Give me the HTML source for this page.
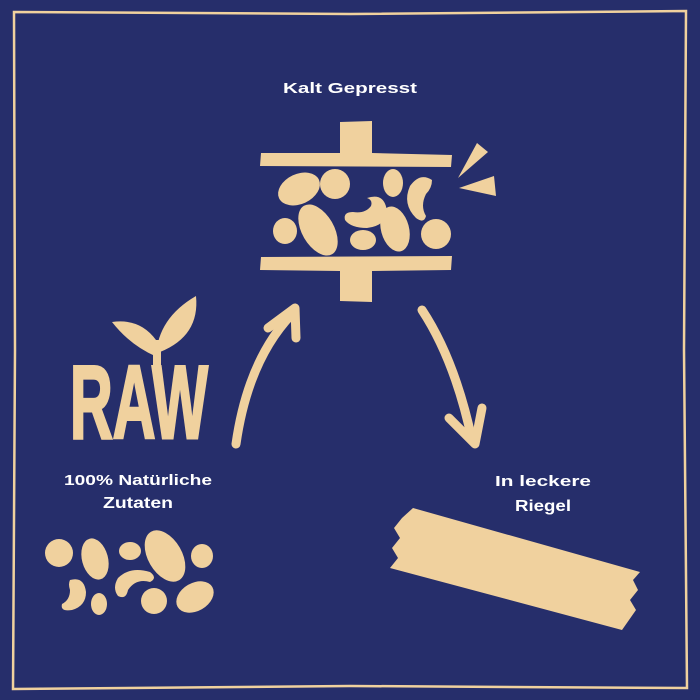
<!DOCTYPE html>
<html><head><meta charset="utf-8"><style>
html,body{margin:0;padding:0;background:#262e6b;}
svg{display:block}
text{font-family:"Liberation Sans",sans-serif;font-weight:bold;fill:#fff;text-anchor:middle;}
</style></head><body>
<svg width="700" height="700" viewBox="0 0 700 700" xmlns="http://www.w3.org/2000/svg">
<rect width="700" height="700" fill="#262e6b"/>
<path d="M14 12 L350 14 L686 11 L684 350 L687 688 L350 686 L13 689 L15 350 Z" fill="none" stroke="#f0d19e" stroke-width="2.5"/>
<g fill="#f0d19e">
<polygon points="340,122 372,121 372,153 452,155 451,167 260,166 261,153 340,153"/>
<polygon points="261,257 452,256 451,270 372,271 372,302 340,301 340,271 260,270"/>
<ellipse cx="299" cy="189" rx="22" ry="15" transform="rotate(-25 299 189)"/>
<circle cx="335" cy="184" r="15"/>
<ellipse cx="393" cy="183" rx="10" ry="14"/>
<path d="M432 180 q-12 -8 -22 6 q-8 18 6 32 q8 6 10 -2 q-6 -10 0 -22 q6 -6 6 -14z"/>
<path d="M367 198 q18 -6 20 14 q-2 14 -20 16 q-16 0 -22 -8 q-2 -8 8 -8 q12 2 18 -6 q2 -6 -4 -8z"/>
<ellipse cx="285" cy="231" rx="12" ry="13"/>
<ellipse cx="318" cy="230" rx="16" ry="28" transform="rotate(-30 318 230)"/>
<ellipse cx="363" cy="240" rx="13" ry="10"/>
<ellipse cx="395" cy="229" rx="14" ry="23" transform="rotate(-15 395 229)"/>
<circle cx="436" cy="234" r="15"/>
<polygon points="458,178 477,143 488,152"/>
<polygon points="459,188 494,176 496,196"/>
<path d="M236 444 Q248 360 292 314" fill="none" stroke="#f0d19e" stroke-width="9" stroke-linecap="round"/>
<path d="M268 328 L295 308 L296 338" fill="none" stroke="#f0d19e" stroke-width="9" stroke-linecap="round" stroke-linejoin="round"/>
<path d="M422 310 Q455 360 472 440" fill="none" stroke="#f0d19e" stroke-width="9" stroke-linecap="round"/>
<path d="M449 418 L475 444 L482 408" fill="none" stroke="#f0d19e" stroke-width="9" stroke-linecap="round" stroke-linejoin="round"/>
<path d="M155 356 Q130 345 112 322 Q140 318 156 340 Z"/>
<path d="M156 356 Q158 318 196 296 Q200 336 160 352 Z"/>
<rect x="153" y="340" width="8" height="30"/>
<polygon points="413,508 640,572 633,580 638,590 630,600 636,610 622,630 390,568 398,558 392,548 400,538 394,528 402,518"/>
<circle cx="59" cy="553" r="14"/>
<ellipse cx="95" cy="559" rx="13" ry="21" transform="rotate(-15 95 559)"/>
<ellipse cx="130" cy="551" rx="11" ry="9"/>
<ellipse cx="165" cy="556" rx="17" ry="28" transform="rotate(-30 165 556)"/>
<ellipse cx="202" cy="556" rx="11" ry="12"/>
<path d="M70 580 q14 -4 16 12 q0 14 -14 18 q-12 2 -10 -6 q8 -4 8 -14 q-2 -6 0 -10z"/>
<ellipse cx="99" cy="604" rx="8" ry="11"/>
<path d="M118 578 q12 -12 32 -6 q8 6 0 10 q-14 -4 -22 8 q-2 10 -10 6 q-6 -8 0 -18z"/>
<circle cx="154" cy="601" r="13"/>
<ellipse cx="195" cy="597" rx="20" ry="14" transform="rotate(-30 195 597)"/>
</g>
<text x="139" y="438" style="font-size:104px;fill:#f0d19e;stroke:#f0d19e;stroke-width:3" textLength="138" lengthAdjust="spacingAndGlyphs">RAW</text>
<text x="350" y="93" font-size="15" textLength="134" lengthAdjust="spacingAndGlyphs">Kalt Gepresst</text>
<text x="138" y="485" font-size="15" textLength="148" lengthAdjust="spacingAndGlyphs">100% Natürliche</text>
<text x="138" y="508" font-size="16" textLength="70" lengthAdjust="spacingAndGlyphs">Zutaten</text>
<text x="543" y="486" font-size="15" textLength="96" lengthAdjust="spacingAndGlyphs">In leckere</text>
<text x="543" y="511" font-size="16" textLength="56" lengthAdjust="spacingAndGlyphs">Riegel</text>
</svg>
</body></html>
